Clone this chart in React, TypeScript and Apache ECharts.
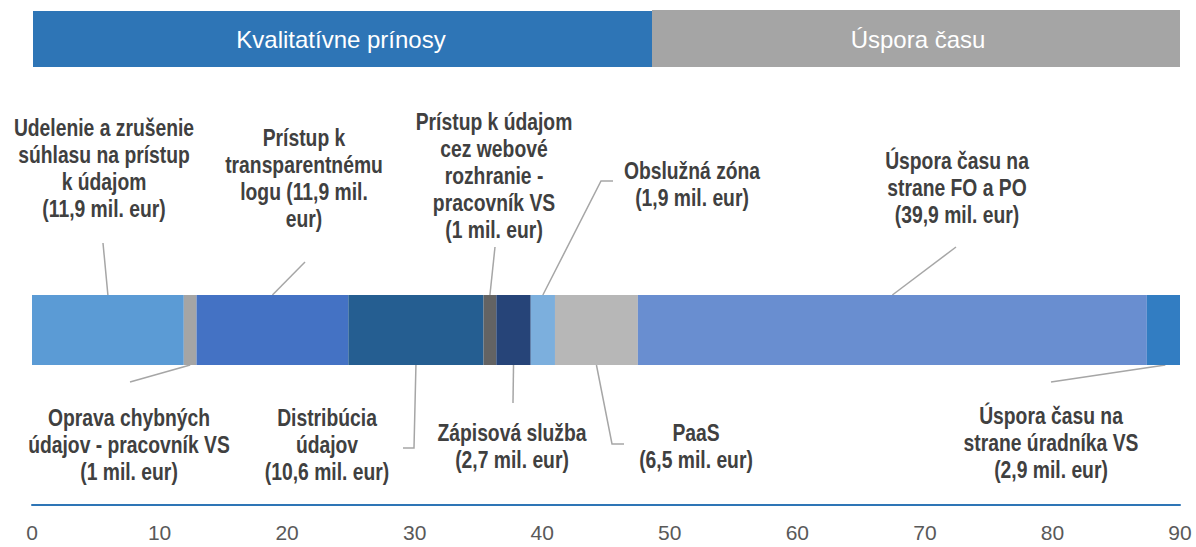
import React, { useEffect, useRef } from "react";
import * as echarts from "echarts";

const categories = ["Prínosy"];
const segmentNames = [
  "Udelenie a zrušenie súhlasu na prístup k údajom",
  "Oprava chybných údajov - pracovník VS",
  "Prístup k transparentnému logu",
  "Distribúcia údajov",
  "Prístup k údajom cez webové rozhranie - pracovník VS",
  "Zápisová služba",
  "Obslužná zóna",
  "PaaS",
  "Úspora času na strane FO a PO",
  "Úspora času na strane úradníka VS",
];
const segmentValues = [11.9, 1, 11.9, 10.6, 1, 2.7, 1.9, 6.5, 39.9, 2.9];
const labelTexts = [
  "Udelenie a zrušenie\nsúhlasu na prístup\nk údajom\n(11,9 mil. eur)",
  "Oprava chybných\núdajov - pracovník VS\n(1 mil. eur)",
  "Prístup k\ntransparentnému\nlogu (11,9 mil.\neur)",
  "Distribúcia\núdajov\n(10,6 mil. eur)",
  "Prístup k údajom\ncez webové\nrozhranie -\npracovník VS\n(1 mil. eur)",
  "Zápisová služba\n(2,7 mil. eur)",
  "Obslužná zóna\n(1,9 mil. eur)",
  "PaaS\n(6,5 mil. eur)",
  "Úspora času na\nstrane FO a PO\n(39,9 mil. eur)",
  "Úspora času na\nstrane úradníka VS\n(2,9 mil. eur)",
];
const headerTexts = ["Kvalitatívne prínosy", "Úspora času"];
const axisTicks = [0, 10, 20, 30, 40, 50, 60, 70, 80, 90];

// layout (pixels) for manual label placement
const segColors = ["#5B9BD5", "#A5A5A5", "#4472C4", "#255E91", "#636363", "#264478", "#7CAFDD", "#B7B7B7", "#698ED0", "#327DC2"];
const labelPos: [number, number][] = [
  [104, 168], [129, 445], [304, 178], [327, 445], [494, 176],
  [512, 446], [692, 184], [696, 446], [957, 188], [1051, 443],
];
const anchorSide = ["top", "bottom", "top", "bottom", "top", "bottom", "top", "bottom", "top", "bottom"];
const linePoints: [number, number][][] = [
  [[103, 243]],
  [[130, 382]],
  [[305, 262]],
  [[414, 448], [403, 448]],
  [[495, 247]],
  [[513, 403]],
  [[601, 181], [613, 181]],
  [[612, 444], [624, 444]],
  [[956, 247]],
  [[1051, 382]],
];

const SANS = '"Liberation Sans", Arial, sans-serif';

export default function App() {
  const ref = useRef<HTMLDivElement>(null);
  useEffect(() => {
    document.body.style.margin = "0";
    if (!ref.current) return;
    const chart = echarts.init(ref.current, undefined, { renderer: "svg" });
    const gridLeft = 32;
    const gridTop = 295;
    const gridH = 70;
    chart.setOption({
      animation: false,
      grid: { left: gridLeft, top: gridTop, width: 1148, height: gridH, containLabel: false },
      xAxis: {
        type: "value",
        min: axisTicks[0],
        max: axisTicks[axisTicks.length - 1],
        interval: 10,
        offset: 140,
        axisLine: { show: true, lineStyle: { color: "#2E75B6", width: 2 } },
        axisTick: { show: false },
        splitLine: { show: false },
        axisLabel: { color: "#595959", fontSize: 21, fontFamily: SANS, margin: 17 },
      },
      yAxis: { type: "category", data: categories, show: false },
      series: segmentValues.map((v, i) => ({
        name: segmentNames[i],
        type: "bar",
        stack: "total",
        barWidth: "100%",
        barCategoryGap: "0%",
        clip: true,
        data: [v],
        itemStyle: { color: segColors[i] },
      })),
    });

    const graphics: any[] = [];
    graphics.push({ type: "rect", shape: { x: 33, y: 11, width: 619, height: 56 }, style: { fill: "#2E75B6" } });
    graphics.push({ type: "rect", shape: { x: 652, y: 10, width: 528, height: 57 }, style: { fill: "#A5A5A5" } });
    graphics.push({ type: "text", x: 341, y: 39, style: { text: headerTexts[0], fill: "#fff", font: `24px ${SANS}`, align: "center", verticalAlign: "middle" } });
    graphics.push({ type: "text", x: 918, y: 39, style: { text: headerTexts[1], fill: "#fff", font: `24px ${SANS}`, align: "center", verticalAlign: "middle" } });

    let cum = 0;
    segmentValues.forEach((v, i) => {
      const mid = cum + v / 2;
      cum += v;
      const px = chart.convertToPixel({ gridIndex: 0 }, [mid, 0]) as number[];
      const ay = anchorSide[i] === "top" ? gridTop : gridTop + gridH;
      const pts = [[px[0], ay], ...linePoints[i]];
      graphics.push({ type: "polyline", shape: { points: pts }, style: { stroke: "#A6A6A6", lineWidth: 1.5, fill: null } });
      graphics.push({
        type: "text",
        x: labelPos[i][0],
        y: labelPos[i][1],
        scaleX: 0.84,
        style: {
          text: labelTexts[i],
          fill: "#404040",
          font: `bold 23px ${SANS}`,
          lineHeight: 27,
          align: "center",
          verticalAlign: "middle",
        },
      });
    });
    chart.setOption({ graphic: graphics });
    return () => chart.dispose();
  }, []);
  return <div ref={ref} style={{ width: 1196, height: 547 }} />;
}
